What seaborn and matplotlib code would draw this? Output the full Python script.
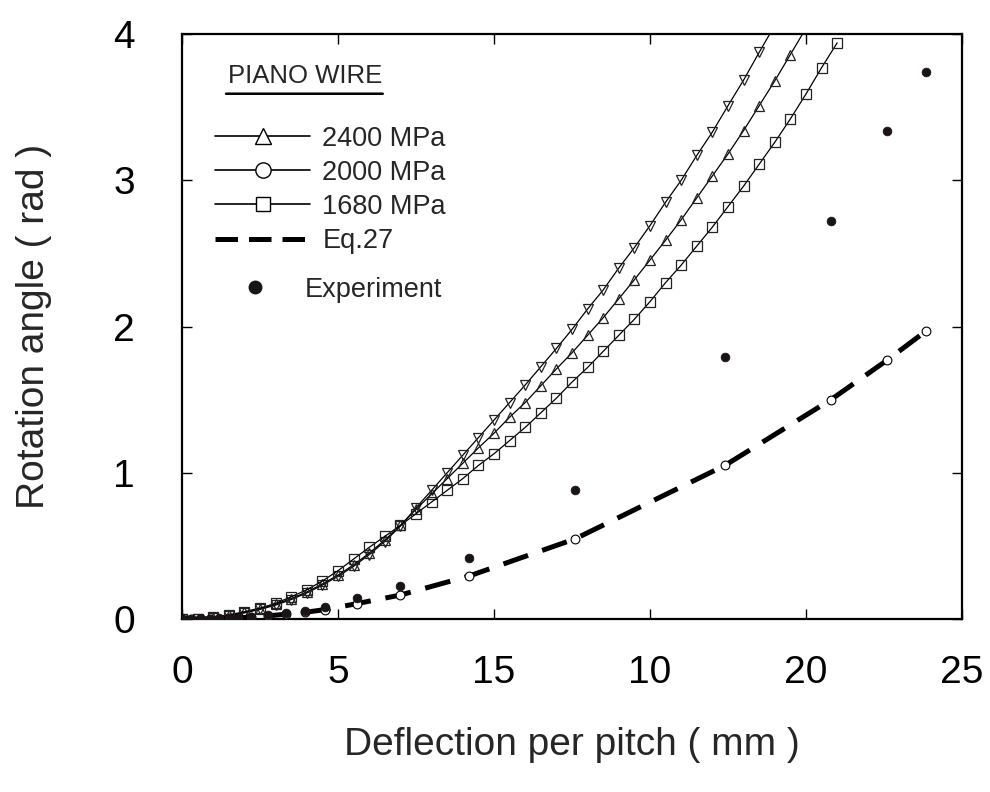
import numpy as np
import matplotlib
matplotlib.use("Agg")
import matplotlib.pyplot as plt
from matplotlib.lines import Line2D
import seaborn as sns

# curve data (x in mm, y in rad)
x_down = [0, 0.5, 1.0, 1.5, 2.0, 2.5, 3.0, 3.5, 4.0, 4.5, 5.0, 5.5, 6.0, 6.5,
          7.0, 7.5, 8.0, 8.5, 9.0, 9.5, 10.0, 10.5, 11.0, 11.5, 12.0, 12.5,
          13.0, 13.5, 14.0, 14.5, 15.0, 15.5, 16.0, 16.5, 17.0, 17.5, 18.0,
          18.5, 19.0]
y_down = [0, 0.002, 0.009, 0.022, 0.042, 0.066, 0.095, 0.133, 0.178, 0.232,
          0.292, 0.36, 0.44, 0.53, 0.635, 0.76, 0.88, 1.00, 1.12, 1.24, 1.36,
          1.48, 1.60, 1.725, 1.85, 1.98, 2.12, 2.25, 2.40, 2.54, 2.69, 2.85,
          3.00, 3.17, 3.33, 3.51, 3.685, 3.875, 4.06]

x_up = [0, 0.5, 1.0, 1.5, 2.0, 2.5, 3.0, 3.5, 4.0, 4.5, 5.0, 5.5, 6.0, 6.5,
        7.0, 7.5, 8.0, 8.5, 9.0, 9.5, 10.0, 10.5, 11.0, 11.5, 12.0, 12.5,
        13.0, 13.5, 14.0, 14.5, 15.0, 15.5, 16.0, 16.5, 17.0, 17.5, 18.0,
        18.5, 19.0, 19.5, 20.0]
y_up = [0, 0.002, 0.01, 0.025, 0.045, 0.07, 0.10, 0.14, 0.185, 0.24, 0.30,
        0.37, 0.45, 0.54, 0.64, 0.75, 0.855, 0.96, 1.065, 1.17, 1.27, 1.38,
        1.48, 1.595, 1.71, 1.82, 1.94, 2.06, 2.19, 2.32, 2.455, 2.59, 2.73,
        2.88, 3.03, 3.18, 3.34, 3.51, 3.68, 3.86, 4.04]

x_sq = [0, 0.5, 1.0, 1.5, 2.0, 2.5, 3.0, 3.5, 4.0, 4.5, 5.0, 5.5, 6.0, 6.5,
        7.0, 7.5, 8.0, 8.5, 9.0, 9.5, 10.0, 10.5, 11.0, 11.5, 12.0, 12.5,
        13.0, 13.5, 14.0, 14.5, 15.0, 15.5, 16.0, 16.5, 17.0, 17.5, 18.0,
        18.5, 19.0, 19.5, 20.0, 20.5, 21.0]
y_sq = [0, 0.003, 0.012, 0.028, 0.05, 0.075, 0.107, 0.152, 0.20, 0.26, 0.33,
        0.41, 0.49, 0.565, 0.64, 0.72, 0.80, 0.88, 0.96, 1.05, 1.13, 1.22,
        1.31, 1.41, 1.51, 1.62, 1.72, 1.83, 1.94, 2.05, 2.17, 2.30, 2.42,
        2.55, 2.68, 2.82, 2.96, 3.11, 3.26, 3.42, 3.59, 3.77, 3.94]

# experiment and Eq.27 share the same deflections
x_exp = [0, 0.3, 0.6, 0.9, 1.2, 1.5, 1.8, 2.2, 2.75, 3.35, 3.95, 4.6, 5.6,
         7.0, 9.2, 12.6, 17.4, 20.8, 22.6, 23.85]
y_exp = [0, 0, 0, 0.002, 0.004, 0.006, 0.01, 0.016, 0.027, 0.043, 0.055,
         0.084, 0.146, 0.226, 0.42, 0.88, 1.79, 2.72, 3.34, 3.74]
y_eq27 = [0, 0, 0, 0.001, 0.003, 0.005, 0.008, 0.013, 0.022, 0.033, 0.046,
          0.065, 0.105, 0.164, 0.294, 0.548, 1.05, 1.50, 1.77, 1.97]

x_ticks = [0, 5, 10, 15, 20, 25]
x_ticklabels = ["0", "5", "15", "10", "20", "25"]
y_ticks = [0, 1, 2, 3, 4]

sns.set_style("ticks")
plt.rcParams['font.family'] = ['Liberation Sans', 'DejaVu Sans']

fig = plt.figure(figsize=(9.9, 7.92), dpi=100)
ax = fig.add_axes([0.1838, 0.2184, 0.7879, 0.7386])

mk = dict(markerfacecolor='none', markeredgecolor='#222222', markeredgewidth=0.9)
sns.lineplot(x=x_down, y=y_down, ax=ax, color='black', lw=0.9, marker='v', markersize=7, **mk)
sns.lineplot(x=x_up, y=y_up, ax=ax, color='black', lw=0.9, marker='^', markersize=7, **mk)
sns.lineplot(x=x_sq, y=y_sq, ax=ax, color='black', lw=0.9, marker='s', markersize=6.5, **mk)

sns.lineplot(x=x_exp, y=y_eq27, ax=ax, color='black', lw=3.6, dashes=False,
             linestyle=(0, (5.2, 3.0)))
sns.scatterplot(x=x_exp, y=y_eq27, ax=ax, marker='o', s=40, facecolor='white',
                edgecolor='black', linewidth=0.8, zorder=4)
sns.scatterplot(x=x_exp, y=y_exp, ax=ax, marker='o', s=40, color='#1a1414',
                edgecolor='#1a1414', zorder=5)

ax.set_xlim(0, 25)
ax.set_ylim(0, 4)
ax.set_xticks(x_ticks)
ax.set_xticklabels(x_ticklabels)
ax.set_yticks(y_ticks)
ax.tick_params(direction='in', length=7, width=1, top=True, right=True,
               labelsize=28, colors='black')
ax.tick_params(axis='x', pad=26)
ax.tick_params(axis='y', pad=34)
for sp in ax.spines.values():
    sp.set_linewidth(1.6)
    sp.set_color('black')

ax.set_xlabel("Deflection per pitch ( mm )", fontsize=28, labelpad=26)
ax.set_ylabel("Rotation angle ( rad )", fontsize=28, labelpad=44)

# legend
handles = [
    Line2D([], [], color='black', lw=1.2, marker='^', markersize=12,
           markerfacecolor='white', markeredgecolor='black'),
    Line2D([], [], color='black', lw=1.2, marker='o', markersize=11,
           markerfacecolor='white', markeredgecolor='black'),
    Line2D([], [], color='black', lw=1.2, marker='s', markersize=10,
           markerfacecolor='white', markeredgecolor='black'),
    Line2D([], [], color='black', lw=3.6, linestyle=(0, (4.5, 2.2))),
]
labels = ["2400 MPa", "2000 MPa", "1680 MPa", "Eq.27"]
leg1 = ax.legend(handles, labels, loc='upper left', bbox_to_anchor=(0.029, 0.862),
                 frameon=False, fontsize=19.5, handlelength=3.5, handletextpad=0.45,
                 labelspacing=0.3, borderaxespad=0)
ax.add_artist(leg1)
exp_handle = [Line2D([], [], linestyle='none', marker='o', markersize=9,
                     color='#1a1414')]
ax.legend(exp_handle, ["Experiment"], loc='upper left', bbox_to_anchor=(0.031, 0.604),
          frameon=False, fontsize=19.5, handlelength=2.8, handletextpad=0.45,
          borderaxespad=0)

ax.text(0.059, 0.928, "PIANO WIRE", transform=ax.transAxes, fontsize=18.5,
        ha='left', va='center')
ax.annotate("", xy=(0.261, 0.898), xytext=(0.053, 0.898), xycoords='axes fraction',
            arrowprops=dict(arrowstyle='-', lw=1.8, color='black'))

fig.savefig("out.png", dpi=100)
